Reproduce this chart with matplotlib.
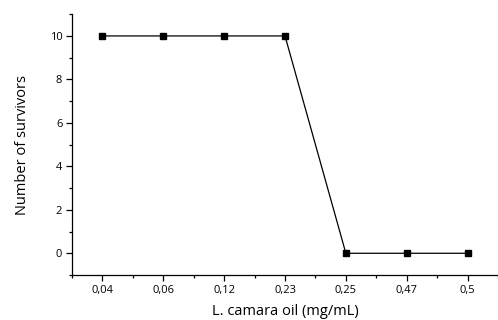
import matplotlib
matplotlib.use("Agg")
import matplotlib.pyplot as plt

# data
concentrations = ["0,04", "0,06", "0,12", "0,23", "0,25", "0,47", "0,5"]
survivors = [10, 10, 10, 10, 0, 0, 0]

plt.rcParams["font.family"] = ["Open Sans", "DejaVu Sans"]

fig = plt.figure(figsize=(4.98, 3.2), dpi=100)
ax = fig.add_axes([0.1446, 0.1406, 0.8554, 0.815])

pos = list(range(1, len(concentrations) + 1))
ax.plot(pos, survivors, color="black", lw=0.9, marker="s", ms=5,
        markerfacecolor="black", markeredgecolor="black")

ax.set_xlim(0.5, 7.5)
ax.set_ylim(-1, 11)
ax.set_xticks(pos)
ax.set_xticklabels(concentrations)
ax.set_xticks([p + 0.5 for p in [0] + pos], minor=True)
ax.set_yticks([0, 2, 4, 6, 8, 10])
ax.set_yticks([-1, 1, 3, 5, 7, 9, 11], minor=True)

ax.tick_params(axis="both", which="major", direction="out", length=4, width=0.9,
               labelsize=8, colors="black", pad=3)
ax.tick_params(axis="both", which="minor", direction="out", length=2.5, width=0.9)

for s in ["top", "right"]:
    ax.spines[s].set_visible(False)
for s in ["left", "bottom"]:
    ax.spines[s].set_linewidth(0.9)

ax.set_xlabel("L. camara oil (mg/mL)", fontsize=10.5, labelpad=6)
ax.set_ylabel("Number of survivors", fontsize=10.5, labelpad=14)

fig.savefig("out.png", dpi=100)
